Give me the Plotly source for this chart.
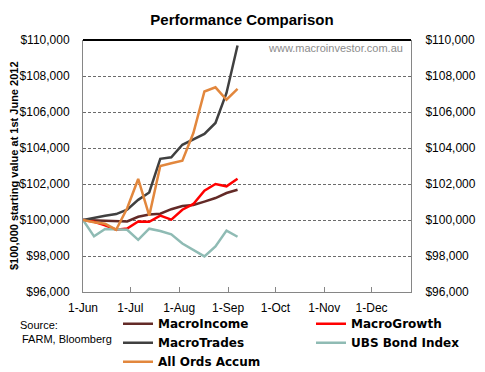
import plotly.graph_objects as go

dates = ["2012-06-01", "2012-06-08", "2012-06-15", "2012-06-22", "2012-06-29",
         "2012-07-06", "2012-07-13", "2012-07-20", "2012-07-27", "2012-08-03",
         "2012-08-10", "2012-08-17", "2012-08-24", "2012-08-31", "2012-09-07"]

macro_income = [100000, 99980, 99930, 99900, 99920, 100180, 100300, 100350,
                100600, 100780, 100830, 101020, 101220, 101500, 101680]
macro_growth = [100000, 99900, 99700, 99460, 99530, 99920, 99900, 100240,
                100020, 100570, 100890, 101630, 102000, 101870, 102290]
macro_trades = [100000, 100140, 100240, 100330, 100570, 101120, 101530, 103400,
                103480, 104180, 104460, 104780, 105390, 107060, 109690]
ubs_bond = [100000, 99090, 99500, 99460, 99460, 98900, 99517, 99390,
            99200, 98690, 98330, 97980, 98533, 99410, 99070]
all_ords = [100000, 99870, 99790, 99460, 100650, 102280, 100240, 103000,
            103150, 103290, 104830, 107140, 107370, 106680, 107280]

y_ticks = [96000, 98000, 100000, 102000, 104000, 106000, 108000, 110000]
y_tick_labels = ["$" + format(v, ",") for v in y_ticks]

series = [
    ("MacroIncome", macro_income, "#632a27", "legend", "y"),
    ("MacroGrowth", macro_growth, "#ff0000", "legend2", "y"),
    ("MacroTrades", macro_trades, "#404040", "legend", "y"),
    ("UBS Bond Index", ubs_bond, "#8fbbb4", "legend2", "y"),
    ("All Ords Accum", all_ords, "#e2873d", "legend", "y2"),
]

fig = go.Figure()
for name, vals, color, lg, yax in series:
    fig.add_trace(go.Scatter(x=dates, y=vals, name=name, mode="lines",
                             line=dict(color=color, width=2.5),
                             legend=lg, yaxis=yax))

tick_font = dict(family="Liberation Sans", size=12, color="#000000")
axis_gray = "#868686"

# page body adds an 8px offset; figure is sized to fill the rest of the window
W, H = 477, 364
fig.update_layout(
    width=W, height=H,
    margin=dict(l=75, r=74, t=32, b=80, autoexpand=False),
    paper_bgcolor="white", plot_bgcolor="white",
    title=dict(text="<b>Performance Comparison</b>", x=(242 - 8) / W, xanchor="center",
               y=1 - 12 / H, yanchor="middle",
               font=dict(family="Liberation Sans", size=15, color="#000000")),
    xaxis=dict(type="date", range=["2012-06-01", "2012-12-26"],
               tick0="2012-06-01", dtick="M1", tickformat="%-d-%b",
               showgrid=False, showline=True, linecolor=axis_gray, linewidth=1,
               ticks="inside", ticklen=5, tickcolor=axis_gray,
               ticklabelstandoff=5,
               tickfont=tick_font, zeroline=False),
    yaxis=dict(range=[96000, 110000], tickvals=y_ticks, ticktext=y_tick_labels,
               showgrid=True, gridcolor="#6b6b6b",
               griddash="3px,2px", gridwidth=1,
               showline=True, linecolor=axis_gray, linewidth=1,
               ticks="", ticklabelstandoff=10, tickfont=tick_font, zeroline=False),
    yaxis2=dict(range=[96000, 110000], tickvals=y_ticks, ticktext=y_tick_labels,
                overlaying="y", side="right",
                showgrid=False, showline=True, linecolor=axis_gray, linewidth=1,
                ticks="", ticklabelstandoff=11, tickfont=tick_font, zeroline=False),
    legend=dict(x=(118 - 83) / 328, y=-0.068, xanchor="left", yanchor="top",
                orientation="v", bgcolor="rgba(0,0,0,0)", itemwidth=30,
                tracegroupgap=0,
                font=dict(family="DejaVu Sans", size=12, color="#000000", weight="bold")),
    legend2=dict(x=(311 - 83) / 328, y=-0.068, xanchor="left", yanchor="top",
                 orientation="v", bgcolor="rgba(0,0,0,0)", itemwidth=30,
                 tracegroupgap=0,
                 font=dict(family="DejaVu Sans", size=12, color="#000000", weight="bold")),
    showlegend=True,
)

# top border of plot area
fig.add_shape(type="line", xref="x domain", yref="y domain", x0=0, x1=1, y0=1, y1=1,
              line=dict(color="#000000", width=2))

fig.add_annotation(text="<b>$100,000 starting value at 1st June 2012</b>",
                   xref="paper", yref="paper", x=(14 - 83) / 328, y=0.5,
                   textangle=-90, showarrow=False, xanchor="center", yanchor="middle",
                   font=dict(family="Liberation Sans", size=11, color="#000000"))
fig.add_annotation(text="www.macroinvestor.com.au", xref="paper", yref="paper",
                   x=(266 - 83) / 328, y=(292 - 48) / 252, xanchor="left",
                   yanchor="middle", showarrow=False,
                   font=dict(family="Liberation Sans", size=11, color="#8c8c8c"))
fig.add_annotation(text="Source:", xref="paper", yref="paper",
                   x=(18 - 83) / 328, y=(292 - 325) / 252, xanchor="left",
                   yanchor="middle", showarrow=False,
                   font=dict(family="Liberation Sans", size=11, color="#000000"))
fig.add_annotation(text="FARM, Bloomberg", xref="paper", yref="paper",
                   x=(20 - 83) / 328, y=(292 - 339) / 252, xanchor="left",
                   yanchor="middle", showarrow=False,
                   font=dict(family="Liberation Sans", size=11, color="#000000"))

fig.write_html("out.html")
